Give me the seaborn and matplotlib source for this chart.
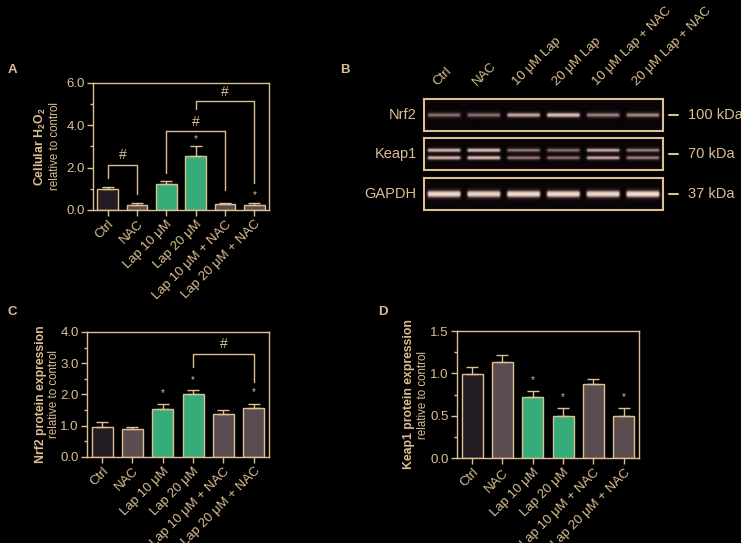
import numpy as np
import pandas as pd
import matplotlib
matplotlib.use("Agg")
import matplotlib.pyplot as plt
import matplotlib.transforms as mtransforms
from matplotlib.colors import LinearSegmentedColormap
from matplotlib.ticker import MultipleLocator, FormatStrFormatter
import seaborn as sns

# =========================
# DATA
# =========================
groups = ["Ctrl", "NAC", "Lap 10 μM", "Lap 20 μM", "Lap 10 μM + NAC", "Lap 20 μM + NAC"]

h2o2_mean = [0.98, 0.24, 1.22, 2.56, 0.28, 0.25]
h2o2_err = [0.09, 0.11, 0.15, 0.46, 0.07, 0.07]

nrf2_mean = [0.97, 0.90, 1.53, 2.02, 1.37, 1.56]
nrf2_err = [0.16, 0.07, 0.16, 0.12, 0.13, 0.15]

keap1_mean = [0.99, 1.13, 0.72, 0.50, 0.87, 0.50]
keap1_err = [0.08, 0.09, 0.07, 0.09, 0.06, 0.09]

# stars (* vs Ctrl): group index, height
h2o2_stars = [(3, 3.35), (5, 0.72)]
nrf2_stars = [(2, 2.05), (3, 2.45), (5, 2.07)]
keap1_stars = [(2, 0.92), (3, 0.72), (5, 0.72)]

# brackets (#): left group, right group, top, left end, right end
h2o2_brackets = [(0, 1, 2.13, 1.5, 0.76), (2, 4, 3.71, 1.77, 0.95), (3, 5, 5.13, 4.77, 1.26)]
nrf2_brackets = [(3, 5, 3.31, 2.89, 2.41)]

# western blot
lane_labels = ["Ctrl", "NAC", "10 μM Lap", "20 μM Lap", "10 μM Lap + NAC", "20 μM Lap + NAC"]
blot_names = ["Nrf2", "Keap1", "GAPDH"]
blot_kda = ["100 kDa", "70 kDa", "37 kDa"]
nrf2_band = [0.55, 0.55, 0.72, 0.82, 0.6, 0.62]
keap1_band = [0.78, 0.82, 0.58, 0.56, 0.72, 0.6]
gapdh_band = [0.95, 0.93, 0.96, 0.95, 0.94, 0.97]

# =========================
# STYLE
# =========================
TAN = "#dcbf93"
BG = "#000000"
palette = ["#241b23", "#5d4a4d", "#22c07a", "#22c07a", "#5d4a4d", "#5d4a4d"]

sns.set_theme(style="ticks")
plt.rcParams["font.family"] = ["Liberation Sans", "DejaVu Sans"]
plt.rcParams.update({
    "figure.facecolor": BG,
    "axes.facecolor": BG,
    "axes.edgecolor": TAN,
    "axes.labelcolor": TAN,
    "text.color": TAN,
    "xtick.color": TAN,
    "ytick.color": TAN,
    "axes.linewidth": 1.0,
    "mathtext.default": "regular",
})

fig = plt.figure(figsize=(7.41, 5.43), dpi=100)


def bar_panel(rect, means, errs, ymax, major, minor, bold_label, stars, brackets, bold_x, rel_x):
    ax = fig.add_axes(rect)
    df = pd.DataFrame({"group": groups, "value": means})
    sns.barplot(data=df, x="group", y="value", hue="group", palette=palette,
                legend=False, width=0.7, edgecolor=TAN, linewidth=1.0, ax=ax)
    ax.errorbar(range(len(groups)), means, yerr=[[0] * len(errs), errs],
                fmt="none", ecolor=TAN, elinewidth=1.0, capsize=4, capthick=1.0)
    ax.set_ylim(0, ymax)
    ax.set_xlim(-0.5, len(groups) - 0.5)
    ax.yaxis.set_major_locator(MultipleLocator(major))
    ax.yaxis.set_minor_locator(MultipleLocator(minor))
    ax.yaxis.set_major_formatter(FormatStrFormatter("%.1f"))
    ax.tick_params(axis="both", labelsize=9.5, length=4, width=1.0, pad=2)
    ax.tick_params(axis="y", which="minor", length=2.5, width=1.0)
    ax.set_xticks(range(len(groups)))
    ax.set_xticklabels(groups, rotation=45, ha="right", rotation_mode="anchor", fontsize=9.5)
    ax.set_xlabel("")
    ax.set_ylabel("")
    for s in ax.spines.values():
        s.set_visible(True)
        s.set_color(TAN)
    ax.text(bold_x, 0.5, bold_label, transform=ax.transAxes, rotation=90,
            ha="center", va="center", fontsize=8.8, fontweight="bold")
    ax.text(rel_x, 0.5, "relative to control", transform=ax.transAxes,
            rotation=90, ha="center", va="center", fontsize=8.3)
    for i, y in stars:
        ax.text(i, y, "*", ha="center", va="center", fontsize=7)
    for i, j, top, lend, rend in brackets:
        ax.plot([i, i, j, j], [lend, top, top, rend], color=TAN, lw=1.0)
        ax.text((i + j) / 2, top + ymax * 0.075, "#", ha="center", va="center", fontsize=10)
    return ax


axA = bar_panel([0.1255, 0.6133, 0.2375, 0.2339], h2o2_mean, h2o2_err, 6.0, 2.0, 1.0,
                "Cellular H$_2$O$_2$", h2o2_stars, h2o2_brackets, -0.30, -0.215)
axC = bar_panel([0.1174, 0.1584, 0.2456, 0.2302], nrf2_mean, nrf2_err, 4.0, 1.0, 0.5,
                "Nrf2 protein expression", nrf2_stars, nrf2_brackets, -0.255, -0.183)
axD = bar_panel([0.6167, 0.1565, 0.2456, 0.2339], keap1_mean, keap1_err, 1.5, 0.5, 0.25,
                "Keap1 protein expression", keap1_stars, [], -0.265, -0.185)

# =========================
# WESTERN BLOT (panel B)
# =========================
blot_cmap = LinearSegmentedColormap.from_list("blot", ["#090406", "#3a2a2c", "#bb9d96", "#fbe9d8"])
bands_all = [[(0.5, nrf2_band)], [(0.38, keap1_band), (0.62, keap1_band)], [(0.5, gapdh_band)]]
band_sigma = [0.06, 0.05, 0.085]
blot_bottoms = [0.7587, 0.6869, 0.6133]

nx, ny = 600, 80
xs = np.linspace(-0.5, 5.5, nx)
ys = np.linspace(0, 1, ny)
X, Y = np.meshgrid(xs, ys)
for k, (name, kda, bottom) in enumerate(zip(blot_names, blot_kda, blot_bottoms)):
    ax = fig.add_axes([0.5722, bottom, 0.3225, 0.0589])
    img = np.zeros_like(X)
    for yc, inten in bands_all[k]:
        for lane, a in enumerate(inten):
            dx = np.abs(X - lane)
            prof = np.clip((0.46 - dx) / 0.08, 0, 1)
            img += a * prof * np.exp(-((Y - yc) ** 2) / (2 * band_sigma[k] ** 2))
    ax.imshow(img, extent=(-0.5, 5.5, 0, 1), origin="lower", aspect="auto",
              cmap=blot_cmap, vmin=0, vmax=1, interpolation="bilinear")
    ax.set_xlim(-0.5, 5.5)
    ax.set_ylim(0, 1)
    ax.set_yticks([])
    ax.set_xticks([])
    for s in ax.spines.values():
        s.set_color(TAN)
        s.set_linewidth(1.5)
    if k == 0:
        trans = mtransforms.blended_transform_factory(ax.transData, ax.transAxes)
        for i, lab in enumerate(lane_labels):
            ax.text(i - 0.16, 1.4, lab, transform=trans, rotation=45, ha="left", va="baseline",
                    rotation_mode="anchor", fontsize=9.5)
    ax.text(-0.03, 0.5, name, transform=ax.transAxes, ha="right", va="center", fontsize=10.5)
    ax.plot([1.025, 1.063], [0.5, 0.5], transform=ax.transAxes, color=TAN, lw=1.5, clip_on=False)
    ax.text(1.105, 0.5, kda, transform=ax.transAxes, ha="left", va="center", fontsize=10.5)

# panel letters
for letter, x, y in [("A", 8, 70), ("B", 340, 70), ("C", 8, 312), ("D", 378, 312)]:
    fig.text(x / 741, 1 - y / 543, letter, fontsize=9.5, fontweight="bold", ha="left", va="center")

fig.savefig("out.png", dpi=100, facecolor=BG)
